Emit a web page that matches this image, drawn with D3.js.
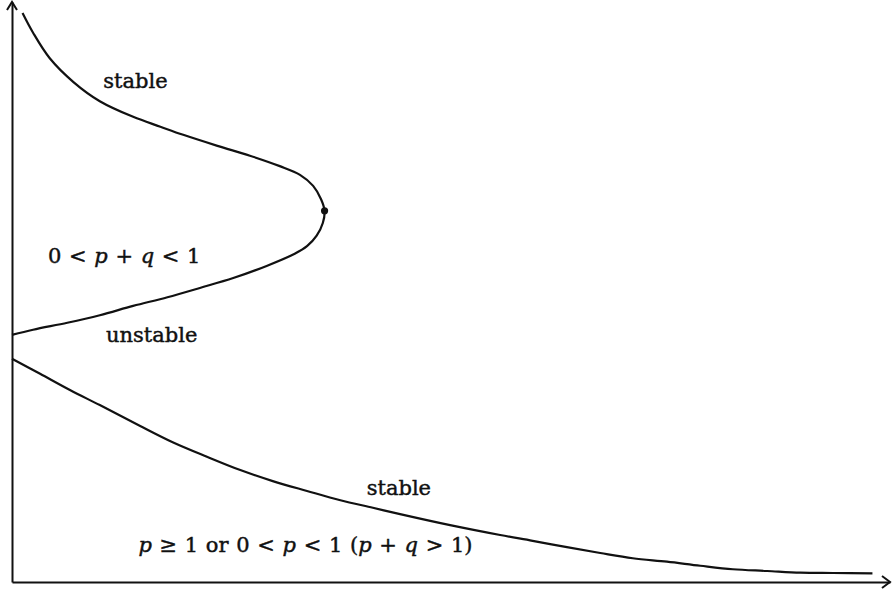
<!DOCTYPE html>
<html>
<head>
<meta charset="utf-8">
<script src="https://cdn.jsdelivr.net/npm/d3@7"></script>
<style>
  html, body { margin: 0; padding: 0; background: #fff; }
  svg { display: block; }
  text { font-family: "DejaVu Serif", serif; font-size: 21px; word-spacing: 1px; fill: #111; stroke: #111; stroke-width: 0.45px; }
</style>
</head>
<body>
<svg id="chart" width="892" height="592"></svg>
<script>
// Upper (C-shaped) branch: stable part on top, turning point, unstable part below
const upperX = [0.12, 0.24, 0.43, 0.70, 1.00, 1.38, 1.69, 1.95, 2.34, 2.71, 3.05, 3.28, 3.43, 3.52, 3.56, 3.54, 3.47, 3.36, 3.22, 2.90, 2.52, 2.14, 1.77, 1.38, 1.00, 0.63, 0.24, 0.00];
const upperY = [9.81, 9.47, 9.03, 8.62, 8.29, 8.02, 7.85, 7.71, 7.52, 7.35, 7.17, 7.02, 6.83, 6.60, 6.40, 6.19, 5.97, 5.79, 5.66, 5.45, 5.24, 5.07, 4.91, 4.76, 4.60, 4.47, 4.35, 4.26];

// Lower branch: stable for all parameter values shown
const lowerX = [0.00, 0.32, 0.66, 1.00, 1.46, 1.83, 2.22, 2.60, 2.97, 3.36, 3.74, 4.11, 4.42, 4.99, 5.56, 5.93, 6.32, 6.70, 7.07, 7.46, 7.84, 8.21, 8.60, 8.98, 9.35, 9.80];
const lowerY = [3.85, 3.59, 3.31, 3.05, 2.69, 2.41, 2.16, 1.93, 1.74, 1.57, 1.41, 1.28, 1.17, 0.98, 0.81, 0.71, 0.60, 0.50, 0.41, 0.35, 0.28, 0.22, 0.19, 0.16, 0.155, 0.15];

// Turning point of the upper branch
const turnX = [3.56];
const turnY = [6.40];

// Region labels
const labelText = [
  [["stable", false]],
  [["0 < ", false], ["p", true], [" + ", false], ["q", true], [" < 1", false]],
  [["unstable", false]],
  [["stable", false]],
  [["p", true], [" \u2265 1 or 0 < ", false], ["p", true], [" < 1 (", false], ["p", true], [" + ", false], ["q", true], [" > 1)", false]]
];
const labelX = [1.04, 0.41, 1.07, 4.04, 1.44];
const labelY = [8.52, 5.50, 4.14, 1.50, 0.52];

const svg = d3.select("#chart");
const x = d3.scaleLinear().domain([0, 10]).range([12, 890]);
const y = d3.scaleLinear().domain([0, 10]).range([582, 2]);

const ink = "#111";

// Axes (no ticks), with open arrowheads
svg.append("g")
  .attr("transform", `translate(0,${y(0)})`)
  .call(d3.axisBottom(x).ticks(0).tickSizeOuter(0))
  .call(g => g.select(".domain").attr("stroke", ink).attr("stroke-width", 2));
svg.append("g")
  .attr("transform", `translate(${x(0)},0)`)
  .call(d3.axisLeft(y).ticks(0).tickSizeOuter(0))
  .call(g => g.select(".domain").attr("stroke", ink).attr("stroke-width", 2));

const arrow = d3.line();
svg.append("path")
  .attr("d", arrow([[x(10) - 8, y(0) - 6], [x(10), y(0)], [x(10) - 8, y(0) + 6]]))
  .attr("fill", "none").attr("stroke", ink).attr("stroke-width", 2);
svg.append("path")
  .attr("d", arrow([[x(0) - 5, y(10) + 8], [x(0), y(10)], [x(0) + 5, y(10) + 8]]))
  .attr("fill", "none").attr("stroke", ink).attr("stroke-width", 2);

// Curves
const curve = d3.line()
  .x(d => x(d[0]))
  .y(d => y(d[1]))
  .curve(d3.curveCatmullRom.alpha(0.5));

svg.append("path")
  .attr("d", curve(d3.zip(upperX, upperY)))
  .attr("fill", "none").attr("stroke", ink).attr("stroke-width", 2.2);
svg.append("path")
  .attr("d", curve(d3.zip(lowerX, lowerY)))
  .attr("fill", "none").attr("stroke", ink).attr("stroke-width", 2.2);

svg.selectAll("circle.turn")
  .data(d3.zip(turnX, turnY))
  .join("circle")
  .attr("class", "turn")
  .attr("cx", d => x(d[0]))
  .attr("cy", d => y(d[1]))
  .attr("r", 3.6)
  .attr("fill", ink);

// Labels
labelText.forEach((parts, i) => {
  const t = svg.append("text")
    .attr("x", x(labelX[i]))
    .attr("y", y(labelY[i]))
    .attr("xml:space", "preserve");
  parts.forEach(([s, it]) => {
    t.append("tspan").text(s).attr("font-style", it ? "italic" : null);
  });
});
</script>
</body>
</html>
